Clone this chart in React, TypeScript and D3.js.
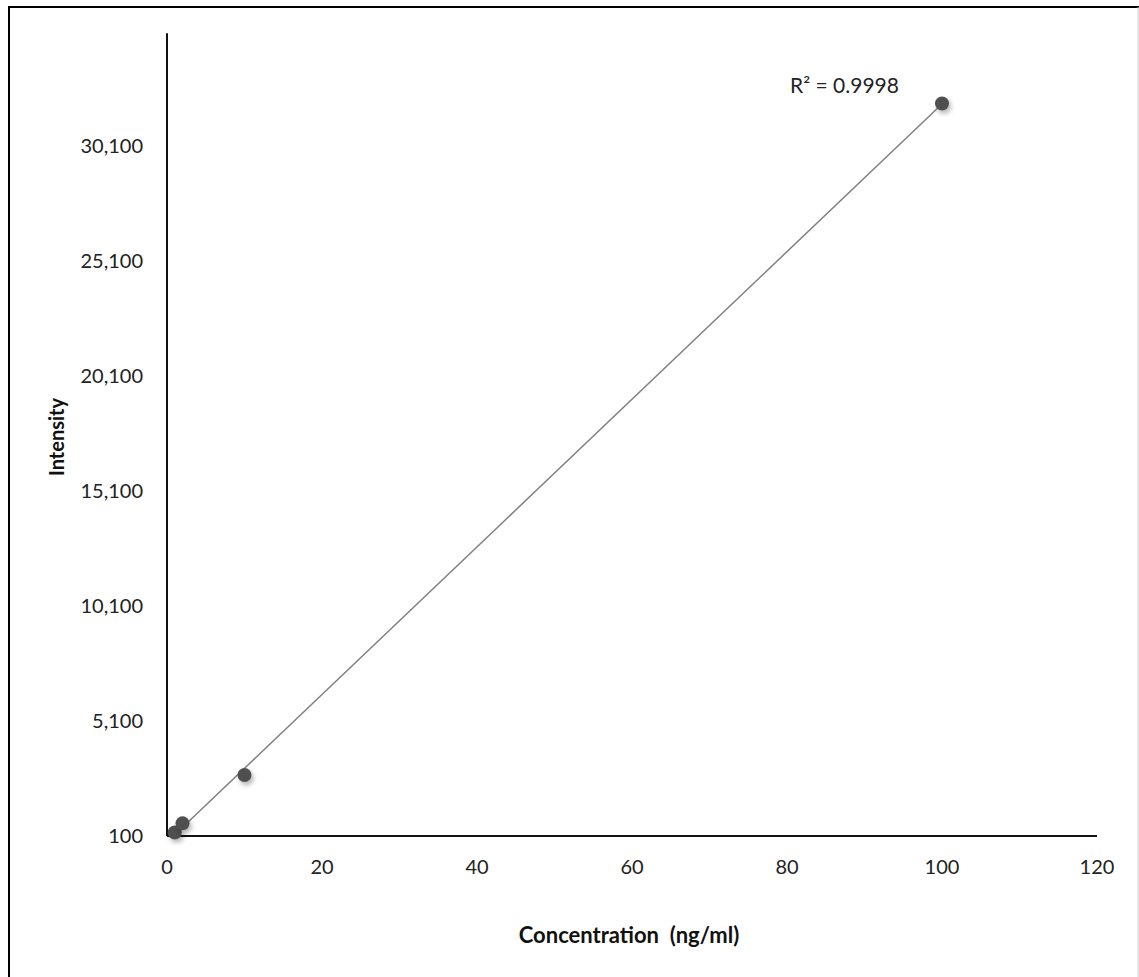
import * as d3 from "d3";

// calibration points
const CONCENTRATION = [1, 2, 10, 100];
const INTENSITY = [250, 650, 2750, 31950];

const X_TICKS = [0, 20, 40, 60, 80, 100, 120];
const Y_TICKS = [100, 5100, 10100, 15100, 20100, 25100, 30100];
const R2_LABEL = "R² = 0.9998";
const X_TITLE = "Concentration  (ng/ml)";
const Y_TITLE = "Intensity";

const W = 1139;
const H = 977;
const FONT = "Lato, 'Open Sans', sans-serif";

const x = d3.scaleLinear().domain([0, 120]).range([167, 1097]);
const y = d3
  .scaleLinear()
  .domain([100, 35000])
  .range([836, 836 - (34900 / 5000) * 115]);

// least-squares trendline through the points
function fit() {
  const mx = d3.mean(CONCENTRATION)!;
  const my = d3.mean(INTENSITY)!;
  let sxy = 0;
  let sxx = 0;
  CONCENTRATION.forEach((c, i) => {
    sxy += (c - mx) * (INTENSITY[i] - my);
    sxx += (c - mx) * (c - mx);
  });
  const slope = sxy / sxx;
  return { slope, intercept: my - slope * mx };
}

export default function App() {
  const { slope, intercept } = fit();
  const [x0, x1] = d3.extent(CONCENTRATION) as [number, number];
  const line = d3
    .line<number>()
    .x((d) => x(d))
    .y((d) => y(slope * d + intercept));

  return (
    <svg
      width={W}
      height={H}
      style={{ position: "absolute", left: 0, top: 0, background: "#fff" }}
    >
      <defs>
        <filter id="shadow" x="-50%" y="-50%" width="200%" height="200%">
          <feDropShadow dx="2" dy="3" stdDeviation="2.5" floodColor="#000" floodOpacity="0.3" />
        </filter>
      </defs>

      {/* frame */}
      <line x1={9} x2={9} y1={6} y2={H} stroke="#000" strokeWidth={2} />
      <line x1={8} x2={W} y1={7} y2={7} stroke="#000" strokeWidth={2} />
      <line x1={1138} x2={1138} y1={7} y2={H} stroke="#ccc" strokeWidth={1} />

      {/* axes */}
      <line x1={x(0)} x2={x(0)} y1={y.range()[1]} y2={y(100)} stroke="#111" strokeWidth={2} />
      <line x1={x(0)} x2={x(120)} y1={y(100)} y2={y(100)} stroke="#111" strokeWidth={2} />

      {Y_TICKS.map((t) => (
        <text
          key={t}
          x={143}
          y={y(t)}
          dy="0.35em"
          textAnchor="end"
          fontFamily={FONT}
          fontSize={20}
          fill="#222"
        >
          {d3.format(",")(t)}
        </text>
      ))}

      {X_TICKS.map((t) => (
        <text
          key={t}
          x={x(t)}
          y={867}
          dy="0.35em"
          textAnchor="middle"
          fontFamily={FONT}
          fontSize={20}
          fill="#222"
        >
          {t}
        </text>
      ))}

      <text
        x={629}
        y={935}
        dy="0.35em"
        textAnchor="middle"
        fontFamily={FONT}
        fontSize={22}
        fontWeight="bold"
        fill="#111"
        style={{ whiteSpace: "pre" }}
      >
        {X_TITLE}
      </text>

      <text
        transform="translate(57,437) rotate(-90)"
        dy="0.35em"
        textAnchor="middle"
        fontFamily={FONT}
        fontSize={20}
        fontWeight="bold"
        fill="#111"
      >
        {Y_TITLE}
      </text>

      {/* trendline */}
      <path d={line([x0, x1]) ?? ""} fill="none" stroke="#808080" strokeWidth={1.5} />

      {CONCENTRATION.map((c, i) => (
        <circle
          key={c}
          cx={x(c)}
          cy={y(INTENSITY[i])}
          r={7}
          fill="#505050"
          filter="url(#shadow)"
        />
      ))}

      <text
        x={790}
        y={86}
        dy="0.35em"
        fontFamily={FONT}
        fontSize={21}
        fill="#222"
      >
        {R2_LABEL}
      </text>
    </svg>
  );
}
